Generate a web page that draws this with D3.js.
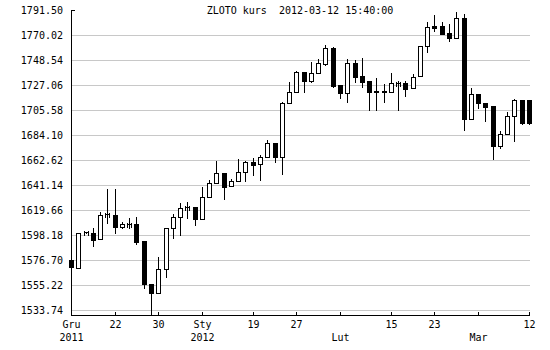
<!DOCTYPE html>
<html><head><meta charset="utf-8">
<script src="https://cdn.jsdelivr.net/npm/d3@7"></script>
<style>
body{margin:0;background:#fff}
svg{display:block}
text{font-family:"DejaVu Sans Mono",monospace;font-size:10px;fill:#000}
</style>
</head><body><svg id="c" width="550" height="350"></svg>
<script>
const title = "ZLOTO kurs  2012-03-12 15:40:00";
const opens  = [1576.70,1570.08,1600.20,1599.73,1594.32,1615.53,1615.36,1605.31,1607.72,1607.63,
                1592.76,1555.82,1548.08,1568.71,1603.94,1613.91,1621.81,1621.99,1611.67,1631.09,
                1642.60,1651.45,1640.02,1644.32,1652.05,1660.64,1658.93,1664.94,1676.97,1665.45,
                1711.33,1720.79,1737.97,1730.75,1737.11,1745.09,1758.59,1727.06,1719.93,1745.70,
                1734.79,1730.50,1721.91,1721.91,1720.79,1728.78,1728.52,1724.22,1734.53,1760.31,
                1777.58,1777.49,1771.74,1767.70,1784.37,1697.59,1719.07,1711.59,1709.01,1674.90,
                1684.70,1700.16,1714.17,1714.17];
const highs  = [1591.56,1599.64,1600.60,1603.94,1617.68,1637.70,1637.70,1609.06,1613.04,1613.98,
                1592.76,1555.82,1579.28,1604.45,1615.97,1625.43,1626.80,1621.99,1639.17,1645.44,
                1661.76,1651.45,1646.29,1663.48,1661.76,1664.08,1666.66,1679.80,1676.97,1712.45,
                1729.38,1738.83,1737.97,1746.82,1749.14,1761.42,1759.45,1727.06,1749.14,1748.54,
                1750.26,1730.50,1732.82,1727.92,1737.11,1730.24,1730.75,1736.25,1760.56,1781.45,
                1787.20,1781.19,1779.47,1790.04,1788.06,1724.22,1719.07,1711.59,1709.01,1687.54,
                1704.12,1715.03,1714.17,1714.17];
const lows   = [1564.67,1570.08,1600.00,1588.98,1594.32,1608.75,1599.64,1603.94,1603.94,1590.19,
                1552.38,1530.30,1548.08,1562.36,1595.34,1598.18,1612.52,1606.77,1611.67,1631.09,
                1642.60,1628.85,1640.02,1644.32,1644.83,1649.73,1645.44,1664.94,1661.16,1650.59,
                1711.33,1720.79,1720.79,1729.90,1737.11,1744.50,1725.08,1715.63,1712.19,1729.38,
                1725.60,1705.58,1705.58,1712.19,1720.79,1705.58,1717.86,1724.22,1734.53,1755.16,
                1773.71,1771.13,1765.12,1767.70,1688.40,1697.59,1707.04,1696.12,1663.48,1673.19,
                1684.70,1679.20,1693.30,1693.30];
const closes = [1570.43,1599.64,1600.40,1594.14,1615.19,1615.88,1605.31,1608.06,1608.06,1592.42,
                1555.82,1548.08,1568.71,1604.45,1613.91,1621.65,1622.16,1611.67,1631.09,1642.60,
                1651.19,1639.68,1644.57,1652.05,1660.64,1658.58,1664.94,1676.97,1665.45,1711.33,
                1720.79,1737.97,1730.75,1737.11,1745.70,1758.59,1726.46,1719.93,1745.70,1734.19,
                1729.90,1720.79,1720.79,1720.79,1728.52,1729.12,1723.88,1734.19,1760.56,1776.63,
                1776.46,1771.13,1767.70,1784.37,1697.59,1719.07,1711.33,1708.41,1674.90,1684.70,
                1700.42,1714.17,1694.67,1694.67];
const yTicks = [1533.74,1555.22,1576.70,1598.18,1619.66,1641.14,1662.62,1684.10,1705.58,1727.06,1748.54,1770.02,1791.50];
const xTickIndex  = [0,6,12,18,25,31,37,44,50,56,63];
const xTickLabels = ["Gru","22","30","Sty","19","27","","15","23","","12"];
const xTickLabels2= ["2011","","","2012","","","Lut","","","Mar",""];

const svg = d3.select("#c");
const n = opens.length;
const x = d3.scaleLinear().domain([0, n-1]).range([71, 529]);
const y = d3.scaleLinear().domain([yTicks[0], yTicks[yTicks.length-1]]).range([310.5, 10.5]);
const px = i => Math.round(x(i));
const py = v => Math.round(y(v) - 0.5);

// gridlines
const g = svg.append("g").attr("shape-rendering","crispEdges");
g.selectAll("line.grid").data(yTicks.slice(0,-1)).enter().append("line")
  .attr("x1",71).attr("x2",530).attr("y1",d=>py(d)+0.5).attr("y2",d=>py(d)+0.5)
  .attr("stroke","#c8c8c8").attr("stroke-width",1);
// top stub
g.append("line").attr("x1",71).attr("x2",75)
  .attr("y1",py(yTicks[yTicks.length-1])+0.5).attr("y2",py(yTicks[yTicks.length-1])+0.5)
  .attr("stroke","#000");

// y labels
svg.selectAll("text.yl").data(yTicks).enter().append("text")
  .attr("x",63).attr("y",d=>py(d)+4).attr("text-anchor","end").text(d=>d.toFixed(2));

// axes
const axisY = 315;
g.append("line").attr("x1",71.5).attr("x2",71.5).attr("y1",py(yTicks[yTicks.length-1])+0.5).attr("y2",axisY+1).attr("stroke","#000");
g.append("line").attr("x1",71).attr("x2",px(n-1)+1).attr("y1",axisY+0.5).attr("y2",axisY+0.5).attr("stroke","#000");
g.selectAll("line.xt").data(xTickIndex).enter().append("line")
  .attr("x1",d=>px(d)+0.5).attr("x2",d=>px(d)+0.5).attr("y1",axisY-3).attr("y2",axisY+1).attr("stroke","#000");
svg.selectAll("text.xl").data(xTickIndex).enter().append("text")
  .attr("x",d=>px(d)+0.5).attr("y",328).attr("text-anchor","middle").text((d,i)=>xTickLabels[i]);
svg.selectAll("text.xl2").data(xTickIndex).enter().append("text")
  .attr("x",d=>px(d)+0.5).attr("y",341).attr("text-anchor","middle").text((d,i)=>xTickLabels2[i]);

// title
svg.append("text").attr("x",300).attr("y",14).attr("text-anchor","middle")
  .attr("xml:space","preserve").style("white-space","pre").text(title);

// candles
const idx = d3.range(n);
const cg = svg.append("g").attr("shape-rendering","crispEdges");
idx.forEach(i => {
  const c = px(i);
  const o = opens[i], cl = closes[i], h = highs[i], l = lows[i];
  const yH = py(h), yL = py(l);
  const top = py(Math.max(o,cl)), bot = py(Math.min(o,cl));
  const up = cl >= o;
  if (yL > yH) cg.append("line").attr("x1",c+0.5).attr("x2",c+0.5).attr("y1",yH).attr("y2",yL+1).attr("stroke","#000");
  if (up) {
    if (bot - top < 2) {
      const m = top + 0.5;
      cg.append("line").attr("x1",c-2).attr("x2",c+3).attr("y1",m).attr("y2",m).attr("stroke","#000");
      cg.append("line").attr("x1",c-1.5).attr("x2",c-1.5).attr("y1",m-2).attr("y2",m+3).attr("stroke","#000");
      cg.append("line").attr("x1",c+2.5).attr("x2",c+2.5).attr("y1",m-2).attr("y2",m+3).attr("stroke","#000");
    } else {
      cg.append("rect").attr("x",c-1.5).attr("y",top+0.5).attr("width",4).attr("height",bot-top)
        .attr("fill","#fff").attr("stroke","#000");
    }
  } else {
    cg.append("rect").attr("x",c-2).attr("y",top).attr("width",5).attr("height",Math.max(2,bot-top+1))
      .attr("fill","#000");
  }
});
</script>
</body></html>
